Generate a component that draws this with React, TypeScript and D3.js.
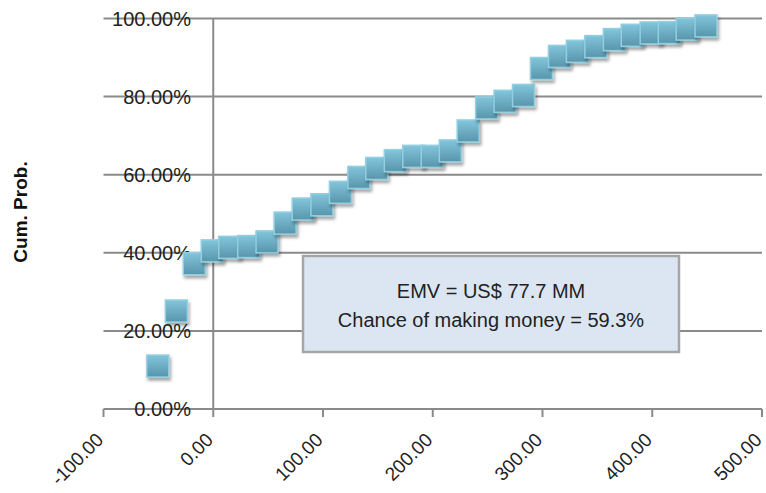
import { useEffect, useRef } from "react";
import * as d3 from "d3";

// NPV outcomes (US$ MM) and the cumulative probability
const npvValues = [
  -50.5, -33.6, -17.3, -0.9, 15.0, 32.3, 49.0, 65.5, 82.0, 99.0, 115.9,
  132.7, 149.0, 165.9, 182.7, 199.5, 216.0, 232.3, 249.1, 265.9, 282.7,
  299.1, 315.5, 331.8, 348.6, 365.5, 381.8, 399.0, 415.5, 431.8, 449.0,
];
const cumProb = [
  0.11, 0.251, 0.372, 0.405, 0.414, 0.416, 0.428, 0.476, 0.512, 0.523, 0.555,
  0.593, 0.616, 0.636, 0.647, 0.647, 0.661, 0.712, 0.771, 0.788, 0.803,
  0.872, 0.903, 0.916, 0.928, 0.946, 0.957, 0.963, 0.964, 0.973, 0.981,
];

const xTicks = [-100, 0, 100, 200, 300, 400, 500];
const yTicks = [0, 0.2, 0.4, 0.6, 0.8, 1.0];
const boxLines = ["EMV = US$ 77.7 MM", "Chance of making money = 59.3%"];
const yTitle = "Cum. Prob.";

export default function App() {
  const svgRef = useRef(null);

  useEffect(() => {
    const svg = d3.select(svgRef.current);
    svg.selectAll("*").remove();

    const width = 766;
    const height = 493;
    const font = "'Liberation Sans', Arial, sans-serif";

    const x = d3.scaleLinear().domain([-100, 500]).range([103.5, 762]);
    const y = d3.scaleLinear().domain([0, 1]).range([409, 18.5]);

    svg.attr("width", width).attr("height", height).style("font-family", font);

    const defs = svg.append("defs");
    const grad = defs
      .append("linearGradient")
      .attr("id", "mk")
      .attr("x1", 0)
      .attr("y1", 0)
      .attr("x2", 0)
      .attr("y2", 1);
    grad.append("stop").attr("offset", "0%").attr("stop-color", "#82c6dc");
    grad.append("stop").attr("offset", "100%").attr("stop-color", "#5895ab");

    const shadow = defs.append("filter").attr("id", "sh").attr("x", "-30%").attr("y", "-30%").attr("width", "170%").attr("height", "170%");
    shadow
      .append("feDropShadow")
      .attr("dx", 1.5)
      .attr("dy", 3)
      .attr("stdDeviation", 1.8)
      .attr("flood-color", "#000")
      .attr("flood-opacity", 0.35);

    // horizontal gridlines
    svg
      .append("g")
      .selectAll("line")
      .data(yTicks)
      .join("line")
      .attr("x1", x(-100))
      .attr("x2", x(500))
      .attr("y1", (d) => y(d))
      .attr("y2", (d) => y(d))
      .attr("stroke", "#8a8a8a")
      .attr("stroke-width", 2);

    // vertical axis crossing at x = 0
    svg
      .append("line")
      .attr("x1", x(0))
      .attr("x2", x(0))
      .attr("y1", y(1))
      .attr("y2", y(0))
      .attr("stroke", "#8a8a8a")
      .attr("stroke-width", 2);

    // x tick marks
    svg
      .append("g")
      .selectAll("line")
      .data(xTicks)
      .join("line")
      .attr("x1", (d) => x(d))
      .attr("x2", (d) => x(d))
      .attr("y1", y(0))
      .attr("y2", y(0) + 8)
      .attr("stroke", "#8a8a8a")
      .attr("stroke-width", 2);

    // y tick labels (sit over the gridlines, left of the axis)
    svg
      .append("g")
      .selectAll("text")
      .data(yTicks)
      .join("text")
      .attr("x", 191)
      .attr("y", (d) => y(d))
      .attr("dy", "0.36em")
      .attr("text-anchor", "end")
      .attr("font-size", 20)
      .attr("fill", "#222")
      .text((d) => (d * 100).toFixed(2) + "%");

    // x tick labels, rotated
    svg
      .append("g")
      .selectAll("text")
      .data(xTicks)
      .join("text")
      .attr("transform", (d) => `translate(${x(d) + 1},${y(0) + 32}) rotate(-45)`)
      .attr("text-anchor", "end")
      .attr("font-size", 19)
      .attr("fill", "#222")
      .text((d) => d.toFixed(2));

    // y axis title
    svg
      .append("text")
      .attr("transform", `translate(27,212) rotate(-90)`)
      .attr("text-anchor", "middle")
      .attr("font-size", 19)
      .attr("font-weight", "bold")
      .attr("fill", "#111")
      .text(yTitle);

    // annotation box
    svg
      .append("rect")
      .attr("x", 303)
      .attr("y", 256)
      .attr("width", 376)
      .attr("height", 96)
      .attr("fill", "#dce6f2")
      .attr("stroke", "#a6a6a6")
      .attr("stroke-width", 2.5);

    svg
      .append("g")
      .selectAll("text")
      .data(boxLines)
      .join("text")
      .attr("x", 491)
      .attr("y", (_d, i) => 298 + i * 29)
      .attr("text-anchor", "middle")
      .attr("font-size", 20)
      .attr("fill", "#222")
      .text((d) => d);

    // markers
    const pts = npvValues.map((v, i) => ({ v, p: cumProb[i] }));
    const size = 22;
    svg
      .append("g")
      .selectAll("rect")
      .data(pts)
      .join("rect")
      .attr("x", (d) => x(d.v) - size / 2)
      .attr("y", (d) => y(d.p) - size / 2)
      .attr("width", size)
      .attr("height", size)
      .attr("fill", "url(#mk)")
      .attr("stroke", "#93cee1")
      .attr("stroke-width", 1.5)
      .attr("filter", "url(#sh)");
  }, []);

  return (
    <div style={{ position: "absolute", left: 0, top: 0, background: "#fff" }}>
      <svg ref={svgRef} />
    </div>
  );
}
